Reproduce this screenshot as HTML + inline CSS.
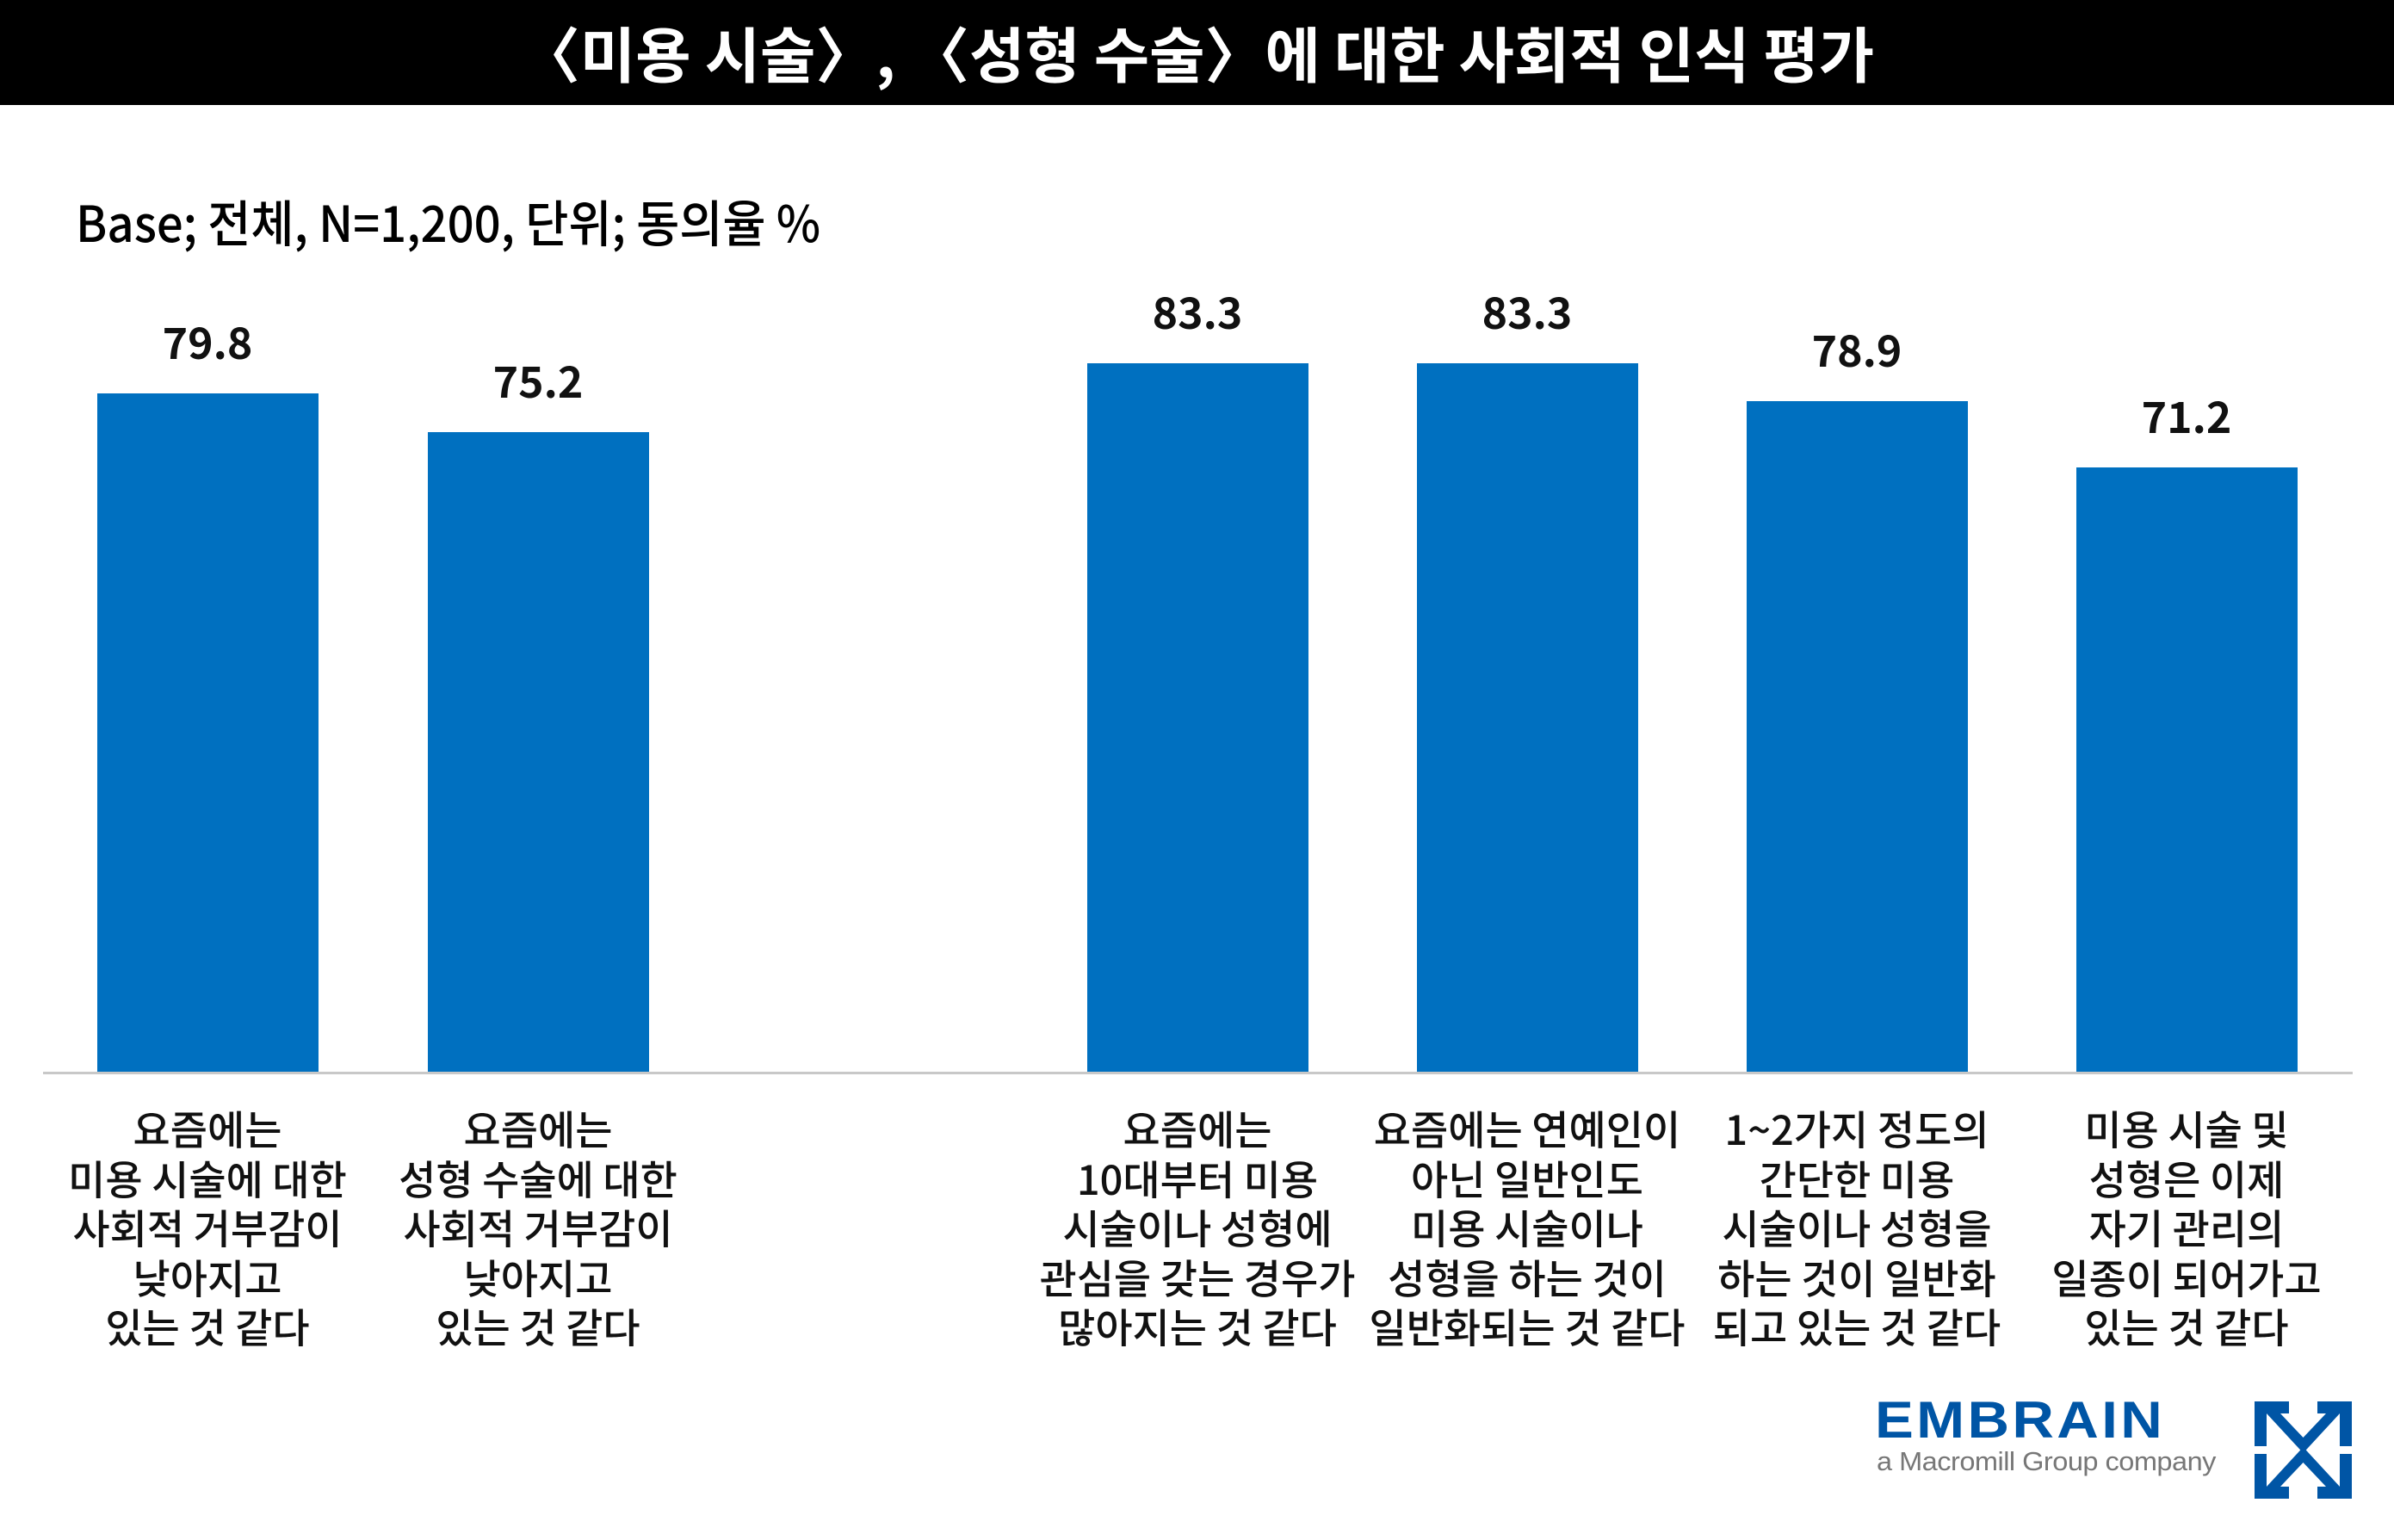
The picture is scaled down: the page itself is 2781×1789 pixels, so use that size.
<!DOCTYPE html>
<html><head><meta charset="utf-8"><style>
html,body{margin:0;padding:0;background:#fff;}
body{width:2781px;height:1789px;position:relative;overflow:hidden;font-family:"Liberation Sans","Noto Sans CJK KR",sans-serif;}
.hdr{position:absolute;left:0;top:0;width:2781px;height:122px;background:#000;color:#fff;font-size:70px;font-weight:700;text-align:center;line-height:122px;font-family:"Noto Sans CJK KR",sans-serif;}
.base{position:absolute;left:88px;top:218px;font-size:58px;font-weight:500;color:#000;font-family:"Noto Sans CJK KR",sans-serif;line-height:76px;transform:scaleX(0.94);transform-origin:left top;}
.bar{position:absolute;background:#0070c0;width:257px;}
.val{position:absolute;width:300px;text-align:center;font-size:50px;font-weight:700;color:#111;font-family:"Noto Sans CJK KR",sans-serif;}
.axis{position:absolute;left:50px;top:1245px;width:2683px;height:3px;background:#c8c8c8;}
.cat{position:absolute;width:400px;text-align:center;font-size:47px;font-weight:500;line-height:57.5px;top:1281px;color:#111;font-family:"Noto Sans CJK KR",sans-serif;}
</style></head><body>
<div class="hdr">〈미용 시술〉, 〈성형 수술〉에 대한 사회적 인식 평가</div>
<div class="base">Base; 전체, N=1,200, 단위; 동의율 %</div>

<div class="bar" style="left:113px;top:457px;height:789px"></div>
<div class="bar" style="left:497px;top:502px;height:744px"></div>
<div class="bar" style="left:1263px;top:422px;height:824px"></div>
<div class="bar" style="left:1646px;top:422px;height:824px"></div>
<div class="bar" style="left:2029px;top:466px;height:780px"></div>
<div class="bar" style="left:2412px;top:543px;height:703px"></div>

<div class="val" style="left:91px;top:360px">79.8</div>
<div class="val" style="left:475px;top:405px">75.2</div>
<div class="val" style="left:1241px;top:325px">83.3</div>
<div class="val" style="left:1624px;top:325px">83.3</div>
<div class="val" style="left:2007px;top:369px">78.9</div>
<div class="val" style="left:2390px;top:446px">71.2</div>

<div class="axis"></div>

<div class="cat" style="left:41px">요즘에는<br>미용 시술에 대한<br>사회적 거부감이<br>낮아지고<br>있는 것 같다</div>
<div class="cat" style="left:425px">요즘에는<br>성형 수술에 대한<br>사회적 거부감이<br>낮아지고<br>있는 것 같다</div>
<div class="cat" style="left:1191px">요즘에는<br>10대부터 미용<br>시술이나 성형에<br>관심을 갖는 경우가<br>많아지는 것 같다</div>
<div class="cat" style="left:1574px">요즘에는 연예인이<br>아닌 일반인도<br>미용 시술이나<br>성형을 하는 것이<br>일반화되는 것 같다</div>
<div class="cat" style="left:1957px">1~2가지 정도의<br>간단한 미용<br>시술이나 성형을<br>하는 것이 일반화<br>되고 있는 것 같다</div>
<div class="cat" style="left:2340px">미용 시술 및<br>성형은 이제<br>자기 관리의<br>일종이 되어가고<br>있는 것 같다</div>

<div style="position:absolute;left:2178px;top:1618px;font-size:60px;font-weight:700;color:#0055a5;letter-spacing:3px;font-family:'Liberation Sans',sans-serif;line-height:64px;transform:scaleX(1.12);transform-origin:left top;">EMBRAIN</div>
<div style="position:absolute;left:2180px;top:1680px;font-size:31px;color:#777;font-family:'Liberation Sans',sans-serif;letter-spacing:-0.5px;transform:scaleX(1.05);transform-origin:left top;">a Macromill Group company</div>
<svg style="position:absolute;left:2619px;top:1628px" width="113" height="113" viewBox="0 0 113 113">
<g fill="#0055a5">
<rect x="0" y="0" width="40" height="14"/><rect x="73" y="0" width="40" height="14"/>
<rect x="0" y="0" width="14" height="52"/><rect x="99" y="0" width="14" height="52"/>
<polygon points="14,14 30,14 56.5,42 83,14 99,14 56.5,60"/>
<rect x="0" y="99" width="40" height="14"/><rect x="73" y="99" width="40" height="14"/>
<rect x="0" y="61" width="14" height="52"/><rect x="99" y="61" width="14" height="52"/>
<polygon points="14,99 30,99 56.5,71 83,99 99,99 56.5,53"/>
</g></svg>
</body></html>
